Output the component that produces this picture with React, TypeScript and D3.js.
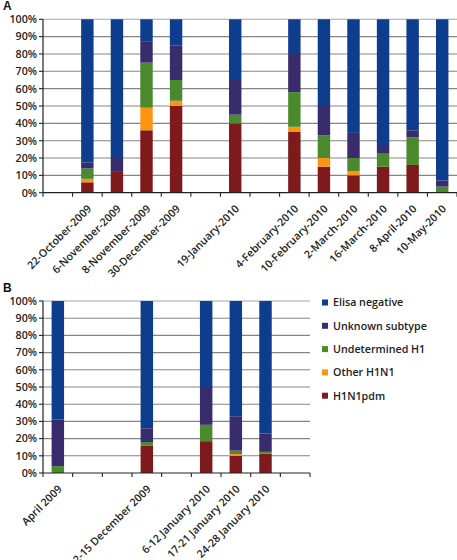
import React from "react";
import * as d3 from "d3";

const seriesNames = ["H1N1pdm", "Other H1N1", "Undetermined H1", "Unknown subtype", "Elisa negative"];
const seriesColors = ["#7e1a1c", "#ff9414", "#4b8a2c", "#382c6c", "#0f3d8d"];

const labelsA = ["", "22-October-2009", "6-November-2009", "8-November-2009", "30-December-2009", "", "19-January-2010", "", "4-February-2010", "10-February-2010", "2-March-2010", "16-March-2010", "8-April-2010", "10-May-2010"];
const h1n1pdmA = [null, 6, 12, 36, 50, null, 40, null, 35, 15, 10, 15, 16, 0];
const otherA = [null, 2, 0, 13, 3, null, 0, null, 3, 5, 2.5, 0, 0, 0];
const undeterminedA = [null, 6, 0, 26, 12, null, 5, null, 20, 13, 7.5, 7.5, 16, 3.5];
const unknownA = [null, 3.5, 8, 12, 20, null, 20, null, 22, 17, 14.5, 5, 4, 3.5];
const elisaA = [null, 82.5, 80, 13, 15, null, 35, null, 20, 50, 65.5, 72.5, 64, 93];

const labelsB = ["April 2009", "", "", "2-15 December 2009", "", "6-12 January 2010", "17-21 January 2010", "24-28 January 2010", ""];
const h1n1pdmB = [0, null, null, 16, null, 18.5, 10, 11.3, null];
const otherB = [0, null, null, 0, null, 0, 1, 0, null];
const undeterminedB = [4, null, null, 2, null, 9.5, 2, 1, null];
const unknownB = [27, null, null, 8, null, 22, 20, 10.7, null];
const elisaB = [69, null, null, 74, null, 50, 67, 77, null];

const yTicks = [0, 10, 20, 30, 40, 50, 60, 70, 80, 90, 100];

const FONT = "'Open Sans', sans-serif";
const FS = 10.7;

type PanelProps = {
  letter: string;
  labels: string[];
  series: (number | null)[][];
  x0: number;
  x1: number;
  yTop: number;
  yBottom: number;
};

function Panel({ letter, labels, series, x0, x1, yTop, yBottom }: PanelProps) {
  const idx = labels.map((_, i) => String(i));
  const x = d3.scaleBand<string>().domain(idx).range([x0, x1]).paddingInner(0).paddingOuter(0);
  const y = d3.scaleLinear().domain([0, 100]).range([yBottom, yTop]);
  const bw = x.bandwidth() * 0.42;
  const rows = labels.map((_, i) => {
    const o: any = { i: String(i) };
    series.forEach((s, k) => (o["s" + k] = s[i] ?? 0));
    o.empty = series.every((s) => s[i] == null);
    return o;
  });
  const stack = d3.stack<any>().keys(series.map((_, k) => "s" + k));
  const stacked = stack(rows);
  const boundaries = d3.range(labels.length + 1).map((k) => x0 + k * x.bandwidth());

  return (
    <g>
      <text x={3} y={yTop - 9} fontFamily="Arial, sans-serif" fontWeight="bold" fontSize={12} fill="#111">{letter}</text>
      {yTicks.filter((t) => t > 0).map((t) => (
        <line key={"g" + t} x1={x0} x2={x1} y1={y(t)} y2={y(t)} stroke={t === 100 ? "#9aa8b8" : "#858585"} strokeWidth={1.1} />
      ))}
      {stacked.map((layer, k) => (
        <g key={"l" + k} fill={seriesColors[k]}>
          {layer.map((d, i) =>
            rows[i].empty || d[1] - d[0] <= 0 ? null : (
              <rect
                key={i}
                x={(x(String(i)) as number) + (x.bandwidth() - bw) / 2}
                width={bw}
                y={y(d[1])}
                height={y(d[0]) - y(d[1])}
              />
            )
          )}
        </g>
      ))}
      <line x1={x0} x2={x0} y1={yTop} y2={yBottom} stroke="#222" strokeWidth={1.2} />
      <line x1={x0} x2={x1} y1={yBottom} y2={yBottom} stroke="#222" strokeWidth={1.2} />
      {yTicks.map((t) => (
        <g key={"t" + t}>
          <line x1={x0 - 4} x2={x0} y1={y(t)} y2={y(t)} stroke="#222" strokeWidth={1.1} />
          <text x={x0 - 6} y={y(t)} dy="0.36em" textAnchor="end" fontFamily={FONT} fontSize={FS} fontWeight={600} fill="#222">
            {t}%
          </text>
        </g>
      ))}
      {boundaries.map((b, k) => (
        <line key={"b" + k} x1={b} x2={b} y1={yBottom} y2={yBottom + 4} stroke="#222" strokeWidth={1.1} />
      ))}
      {labels.map((l, i) =>
        l ? (
          <text
            key={"x" + i}
            transform={`translate(${(x(String(i)) as number) + x.bandwidth() / 2 + 2},${yBottom + 14}) rotate(-45)`}
            textAnchor="end"
            dy="0.36em"
            fontFamily={FONT}
            fontSize={FS}
            fontWeight={600}
            fill="#222"
          >
            {l}
          </text>
        ) : null
      )}
    </g>
  );
}

export default function App() {
  const legendOrder = [4, 3, 2, 1, 0];
  return (
    <svg width={457} height={560} style={{ position: "absolute", left: 0, top: 0, background: "#fff" }}>
      <rect width={457} height={560} fill="#fff" />
      <Panel
        letter="A"
        labels={labelsA}
        series={[h1n1pdmA, otherA, undeterminedA, unknownA, elisaA]}
        x0={43}
        x1={457}
        yTop={19.3}
        yBottom={192.7}
      />
      <Panel
        letter="B"
        labels={labelsB}
        series={[h1n1pdmB, otherB, undeterminedB, unknownB, elisaB]}
        x0={43}
        x1={310}
        yTop={301}
        yBottom={473}
      />
      {legendOrder.map((k, j) => (
        <g key={"lg" + k} transform={`translate(322,${302.5 + j * 23.3})`}>
          <rect x={0} y={-3} width={6} height={6} fill={seriesColors[k]} />
          <text x={11} y={0} dy="0.36em" fontFamily={FONT} fontSize={FS} fontWeight={600} fill="#222">
            {seriesNames[k]}
          </text>
        </g>
      ))}
    </svg>
  );
}
